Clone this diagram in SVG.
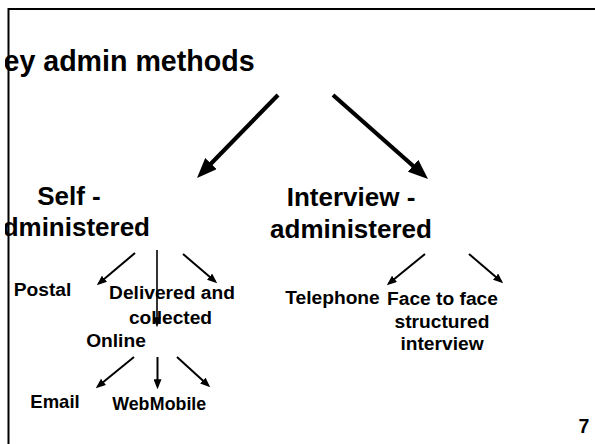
<svg xmlns="http://www.w3.org/2000/svg" width="595" height="444" viewBox="0 0 595 444">
  <style>
    text { font-family: "Liberation Sans", Arial, sans-serif; font-weight: bold; fill: #000; }
    .title { font-size: 28.6px; }
    .big { font-size: 26px; text-anchor: middle; }
    .small { font-size: 19.2px; text-anchor: middle; }
    .leaf { font-size: 17.8px; text-anchor: middle; }
    .num { font-size: 19.5px; text-anchor: middle; }
    .thick { stroke: #000; stroke-width: 4.2; fill: none; }
    .thin { stroke: #000; stroke-width: 2; fill: none; }
  </style>
  <defs>
    <marker id="headBig" viewBox="0 0 10 8" refX="6" refY="4" markerWidth="20" markerHeight="16" markerUnits="userSpaceOnUse" orient="auto">
      <path d="M0,0 L10,4 L0,8 z" fill="#000"/>
    </marker>
    <marker id="headSmall" viewBox="0 0 10 8" refX="7" refY="4" markerWidth="10" markerHeight="8" markerUnits="userSpaceOnUse" orient="auto">
      <path d="M0,0 L10,4 L0,8 z" fill="#000"/>
    </marker>
    <clipPath id="slideArea">
      <rect x="5" y="0" width="590" height="444"/>
    </clipPath>
  </defs>

  <rect width="595" height="444" fill="#fff"/>

  <!-- slide border -->
  <path d="M8.5,444 V9 H595" stroke="#000" stroke-width="2" fill="none"/>

  <g id="title" clip-path="url(#slideArea)">
    <text class="title" x="3.5" y="71">ey admin methods</text>
  </g>

  <g id="self">
    <text class="big" x="69" y="205">Self -</text>
    <g clip-path="url(#slideArea)">
      <text class="big" x="150" y="236" style="text-anchor:end">dministered</text>
    </g>
  </g>

  <g id="interview">
    <text class="big" x="351" y="206">Interview -</text>
    <text class="big" x="351" y="238">administered</text>
  </g>

  <g id="postal"><text class="small" x="42.5" y="296">Postal</text></g>
  <g id="delivered">
    <text class="small" x="172" y="299">Delivered and</text>
    <text class="small" x="170.5" y="324">collected</text>
  </g>
  <g id="online"><text class="small" x="116" y="347">Online</text></g>
  <g id="email"><text class="leaf" x="55" y="408" style="font-size:18.5px">Email</text></g>
  <g id="web"><text class="leaf" x="130.8" y="410">Web</text></g>
  <g id="mobile"><text class="leaf" x="178" y="410">Mobile</text></g>
  <g id="telephone"><text class="small" x="332.5" y="304">Telephone</text></g>
  <g id="facetoface">
    <text class="small" x="442.5" y="305">Face to face</text>
    <text class="small" x="442" y="328">structured</text>
    <text class="small" x="442" y="350">interview</text>
  </g>

  <g id="page-number"><text class="num" x="584" y="433">7</text></g>

  <g id="connectors">
    <line class="thick" x1="278" y1="95" x2="202.6" y2="172.3" marker-end="url(#headBig)"/>
    <line class="thick" x1="333" y1="95" x2="422" y2="173.7" marker-end="url(#headBig)"/>

    <line class="thin" x1="135" y1="253" x2="99.1" y2="283.3" marker-end="url(#headSmall)"/>
    <line class="thin" x1="157" y1="250" x2="157" y2="324.3" marker-end="url(#headSmall)" style="stroke-width:1.6"/>
    <line class="thin" x1="183" y1="254" x2="214.9" y2="281.2" marker-end="url(#headSmall)"/>

    <line class="thin" x1="134" y1="357" x2="98.1" y2="386.3" marker-end="url(#headSmall)"/>
    <line class="thin" x1="157.5" y1="357" x2="157.5" y2="386.3" marker-end="url(#headSmall)"/>
    <line class="thin" x1="177" y1="357" x2="208" y2="385.2" marker-end="url(#headSmall)"/>

    <line class="thin" x1="425" y1="254" x2="389.1" y2="283.3" marker-end="url(#headSmall)"/>
    <line class="thin" x1="469" y1="254" x2="500.9" y2="281.2" marker-end="url(#headSmall)"/>
  </g>
</svg>
